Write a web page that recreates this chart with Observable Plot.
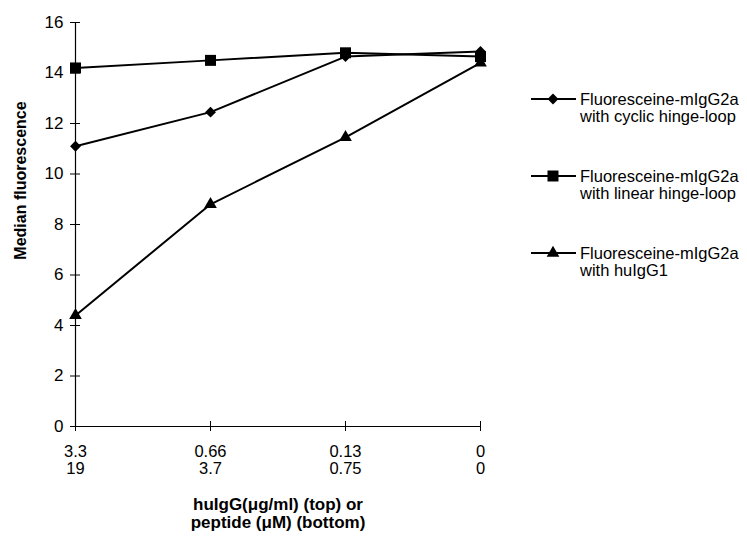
<!DOCTYPE html>
<html><head><meta charset="utf-8">
<script src="https://cdn.jsdelivr.net/npm/d3@7"></script>
<script src="https://cdn.jsdelivr.net/npm/@observablehq/plot@0.6"></script>
<style>
body{margin:0;background:#fff;}
#wrap{position:relative;width:747px;height:538px;font-family:"Liberation Sans",Arial,sans-serif;}
#legend{position:absolute;left:0;top:0;pointer-events:none;}
</style></head><body><div id="wrap"></div>
<script>
// categories (x) : top row = huIgG (µg/ml), bottom row = peptide (µM)
const categories = ["c1","c2","c3","c4"];
const topLabels = ["3.3","0.66","0.13","0"];
const bottomLabels = ["19","3.7","0.75","0"];
const seriesNames = [
  "Fluoresceine-mIgG2a\nwith cyclic hinge-loop",
  "Fluoresceine-mIgG2a\nwith linear hinge-loop",
  "Fluoresceine-mIgG2a\nwith huIgG1"
];
const cyclicValues = [11.1, 12.45, 14.65, 14.85];
const linearValues = [14.2, 14.5, 14.8, 14.65];
const huIgG1Values = [4.4, 8.8, 11.45, 14.4];
const yTicks = [0, 2, 4, 6, 8, 10, 12, 14, 16];
const symbols = ["diamond2", "square", "triangle"];
const symbolR = [4.9, 6.2, 4.7];

const seriesValues = [cyclicValues, linearValues, huIgG1Values];
const rows = [];
seriesValues.forEach((vals, s) => vals.forEach((v, i) => rows.push({x: categories[i], y: v, series: seriesNames[s]})));

const font = '"Liberation Sans", Arial, sans-serif';
const chart = Plot.plot({
  width: 747,
  height: 538,
  marginLeft: 75,
  marginRight: 267,
  marginTop: 22,
  marginBottom: 112,
  style: {fontFamily: font, fontSize: "16px", color: "black", background: "white"},
  x: {type: "point", domain: categories, padding: 0, axis: null},
  y: {domain: [0, 16], axis: null},
  symbol: {domain: seriesNames, range: symbols},
  marks: [
    Plot.ruleX([categories[0]], {y1: 0, y2: 16, stroke: "black", strokeWidth: 1.2}),
    Plot.ruleY([0], {stroke: "black", strokeWidth: 1.2}),
    Plot.axisY(yTicks, {tickSize: 10, dx: 5, tickFormat: () => "", label: null, stroke: "black"}),
    Plot.axisY(yTicks, {tickSize: 0, tickPadding: 12, fontSize: 17, label: null}),
    Plot.axisX(categories, {tickSize: 10, dy: -5, tickFormat: () => "", label: null, stroke: "black"}),
    Plot.axisX(categories, {tickSize: 0, tickPadding: 19, fontSize: 16.5, lineHeight: 1, label: null,
      tickFormat: (d) => { const i = categories.indexOf(d); return topLabels[i] + "\n" + bottomLabels[i]; }}),
    Plot.text(["Median fluorescence"], {frameAnchor: "left", textAnchor: "middle", dx: -55, dy: -44, rotate: -90, fontWeight: "bold", fontSize: 16}),
    Plot.text(["huIgG(\u03bcg/ml) (top) or\npeptide (\u03bcM) (bottom)"], {frameAnchor: "bottom", dy: 101, fontWeight: "bold", fontSize: 17, lineHeight: 1.02}),
    Plot.line(rows, {x: "x", y: "y", z: "series", stroke: "black", strokeWidth: 2}),
    ...seriesNames.map((name, s) => Plot.dot(rows.filter(r => r.series === name), {x: "x", y: "y", symbol: "series", fill: "black", stroke: "none", r: symbolR[s]}))
  ]
});
document.getElementById("wrap").appendChild(chart);

// legend overlay
const legendY = [99, 176, 253];
const d3sym = {diamond2: d3.symbolDiamond2, square: d3.symbolSquare, triangle: d3.symbolTriangle};
const svg = d3.select("#wrap").append("svg").attr("id", "legend").attr("width", 747).attr("height", 538)
  .style("font-family", font).style("font-size", "16.5px");
seriesNames.forEach((name, s) => {
  const g = svg.append("g").attr("transform", `translate(0,${legendY[s]})`);
  g.append("line").attr("x1", 531).attr("x2", 576).attr("stroke", "black").attr("stroke-width", 2);
  g.append("path").attr("transform", "translate(553,0)")
    .attr("d", d3.symbol(d3sym[symbols[s]], Math.PI * symbolR[s] * symbolR[s])()).attr("fill", "black");
  const t = g.append("text").attr("x", 580).attr("y", 0).attr("fill", "black");
  name.split("\n").forEach((ln, j) => t.append("tspan").attr("x", 580).attr("dy", j === 0 ? "0.35em" : "1.03em").text(ln));
});
</script></body></html>
